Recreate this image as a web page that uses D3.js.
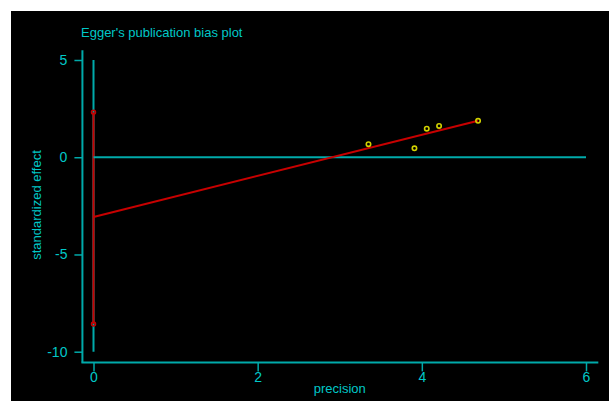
<!DOCTYPE html>
<html>
<head>
<meta charset="utf-8">
<script src="https://cdn.jsdelivr.net/npm/d3@7"></script>
<style>
  html, body { margin: 0; padding: 0; background: #ffffff; }
  svg { display: block; }
  text { font-family: "Liberation Sans", Arial, sans-serif; }
</style>
</head>
<body>
<script>
// Study-level values: precision (1/SE) and standardized effect (effect/SE)
const precision = [3.35, 3.91, 4.06, 4.21, 4.685];
const stdEffect = [0.67, 0.46, 1.47, 1.61, 1.87];

// Egger regression: intercept (bias), its 95% CI, and slope
const intercept = -3.07;
const interceptCI = [-8.57, 2.31];
const slope = 1.055;

const xTicks = [0, 2, 4, 6];
const yTicks = [5, 0, -5, -10];

const W = 609, H = 401;
const cyanLine = "#00aaaa";
const cyanText = "#00c8c8";
const red = "#c80000";
const yellow = "#d2d200";
const plainNumber = d => String(d);

const svg = d3.select("body").append("svg")
  .attr("width", W).attr("height", H);

// black plotting canvas
svg.append("rect")
  .attr("x", 11).attr("y", 11)
  .attr("width", W - 11).attr("height", H - 11)
  .attr("fill", "#000");

const x = d3.scaleLinear().domain([0, 6]).range([93.5, 586]);
const y = d3.scaleLinear().domain([-10, 5]).range([351.7, 60]);

// axis frame lines (extend a little past the tick range)
const xAxisY = y(-10.55);
const yAxisX = x(-0.135);
svg.append("line")
  .attr("x1", yAxisX).attr("x2", yAxisX)
  .attr("y1", y(5.5)).attr("y2", xAxisY)
  .attr("stroke", cyanLine).attr("stroke-width", 2);
svg.append("line")
  .attr("x1", yAxisX - 1).attr("x2", x(6.15))
  .attr("y1", xAxisY).attr("y2", xAxisY)
  .attr("stroke", cyanLine).attr("stroke-width", 2);

// y axis ticks and labels
const yAxis = d3.axisLeft(y).tickValues(yTicks).tickFormat(plainNumber)
  .tickSize(8).tickPadding(7).tickSizeOuter(0);
const gy = svg.append("g").attr("transform", `translate(${yAxisX},0)`).call(yAxis);
gy.select(".domain").remove();
gy.selectAll(".tick line").attr("stroke", cyanLine).attr("stroke-width", 1.5);
gy.selectAll(".tick text")
  .attr("fill", cyanText).attr("font-size", 14)
  .attr("font-family", "Liberation Sans, Arial, sans-serif");

// x axis ticks and labels
const xAxis = d3.axisBottom(x).tickValues(xTicks).tickFormat(plainNumber)
  .tickSize(9).tickPadding(1).tickSizeOuter(0);
const gx = svg.append("g").attr("transform", `translate(0,${xAxisY})`).call(xAxis);
gx.select(".domain").remove();
gx.selectAll(".tick line").attr("stroke", cyanLine).attr("stroke-width", 1.5);
gx.selectAll(".tick text")
  .attr("fill", cyanText).attr("font-size", 14)
  .attr("font-family", "Liberation Sans, Arial, sans-serif");

// vertical reference at precision 0 spanning the y range
svg.append("line")
  .attr("x1", x(0)).attr("x2", x(0))
  .attr("y1", y(5)).attr("y2", y(-10))
  .attr("stroke", cyanLine).attr("stroke-width", 2);

// confidence interval of the intercept
svg.append("line")
  .attr("x1", x(0)).attr("x2", x(0))
  .attr("y1", y(interceptCI[1])).attr("y2", y(interceptCI[0]))
  .attr("stroke", red).attr("stroke-width", 2);
svg.selectAll("circle.ci").data(interceptCI).enter().append("circle")
  .attr("class", "ci")
  .attr("cx", x(0)).attr("cy", d => y(d)).attr("r", 2)
  .attr("fill", "none").attr("stroke", red).attr("stroke-width", 1.5);

// zero effect line
svg.append("line")
  .attr("x1", x(0)).attr("x2", x(6))
  .attr("y1", y(0)).attr("y2", y(0))
  .attr("stroke", cyanLine).attr("stroke-width", 2);

// fitted regression line from precision 0 to the largest precision
const xMax = d3.max(precision);
svg.append("line")
  .attr("x1", x(0)).attr("y1", y(intercept))
  .attr("x2", x(xMax)).attr("y2", y(intercept + slope * xMax))
  .attr("stroke", red).attr("stroke-width", 2);

// studies
svg.selectAll("circle.pt").data(precision).enter().append("circle")
  .attr("class", "pt")
  .attr("cx", d => x(d)).attr("cy", (d, i) => y(stdEffect[i])).attr("r", 2.2)
  .attr("fill", "none").attr("stroke", yellow).attr("stroke-width", 1.6);

// titles
svg.append("text")
  .attr("x", 81).attr("y", 37)
  .attr("fill", cyanText).attr("font-size", 13)
  .text("Egger's publication bias plot");

svg.append("text")
  .attr("x", x(3)).attr("y", 393)
  .attr("text-anchor", "middle")
  .attr("fill", cyanText).attr("font-size", 13)
  .text("precision");

svg.append("text")
  .attr("transform", `translate(41,${(148 + 262) / 2}) rotate(-90)`)
  .attr("text-anchor", "middle")
  .attr("fill", cyanText).attr("font-size", 13)
  .text("standardized effect");
</script>
</body>
</html>
